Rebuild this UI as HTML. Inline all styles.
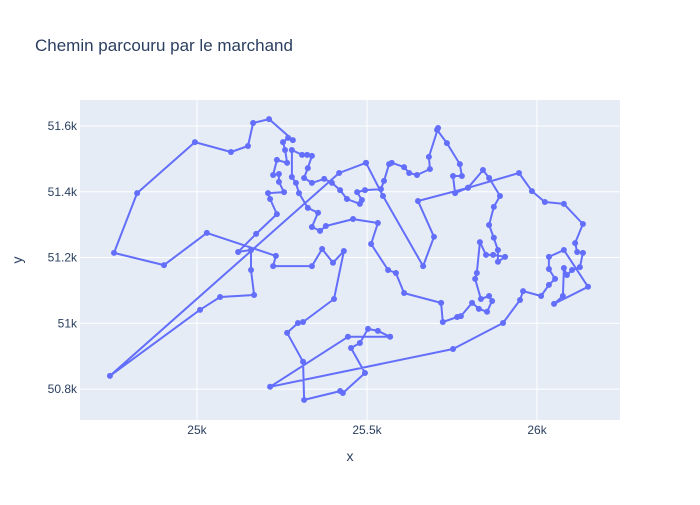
<!DOCTYPE html>
<html><head><meta charset="utf-8"><style>
body{margin:0;background:#fff;font-family:"Liberation Sans",sans-serif;}
svg text{font-family:"Liberation Sans",sans-serif;fill:#2a3f5f;}
</style></head><body>
<svg id="chart" width="700" height="500">
<rect width="700" height="500" fill="#fff"/>
<text x="35" y="51" font-size="17">Chemin parcouru par le marchand</text>
<rect x="80" y="100" width="540" height="320" fill="#e5ecf6"/>
<g id="grid"></g><g id="series"></g><g id="ticks"></g>
<text x="350" y="461" font-size="14" text-anchor="middle">x</text>
<text x="22" y="260" font-size="14" text-anchor="middle" transform="rotate(-90 22 260)">y</text>
</svg>
<script>
const xs=[25497,25418,24744,25009,25068,25168,25159,25159,25121,25174,25235,25215,25209,25256,25241,25241,25224,25235,25265,25259,25253,25268,25282,25212,25165,25150,25100,24994,24824,24756,24903,25029,25232,25224,25338,25368,25400,25432,25403,25312,25297,25265,25312,25315,25421,25429,25494,25453,25479,25503,25532,25568,25444,25215,25753,25900,25950,25959,26012,26035,26053,26035,26035,26079,26150,26050,26076,26079,26088,26103,26126,26135,26118,26112,26135,26079,26023,25985,25947,25797,25759,25753,25779,25773,25735,25706,25709,25682,25685,25647,25624,25609,25573,25565,25550,25541,25494,25471,25485,25479,25441,25421,25397,25374,25338,25315,25326,25338,25324,25309,25279,25279,25291,25300,25326,25356,25338,25362,25379,25459,25532,25512,25562,25585,25609,25718,25723,25765,25776,25809,25829,25853,25868,25859,25835,25818,25823,25832,25850,25871,25906,25885,25885,25873,25859,25873,25891,25859,25841,25797,25650,25697,25665,25547,25497];
const ys=[51488,51457,50840,51041,51080,51086,51162,51223,51217,51272,51332,51378,51396,51399,51430,51454,51451,51497,51488,51527,51551,51564,51557,51621,51609,51539,51521,51551,51396,51214,51177,51275,51205,51174,51174,51226,51184,51220,51074,51004,51001,50971,50883,50767,50794,50788,50849,50925,50940,50983,50977,50959,50959,50807,50922,51001,51071,51098,51083,51117,51135,51165,51202,51223,51111,51059,51083,51168,51147,51162,51171,51214,51217,51244,51302,51363,51369,51402,51457,51412,51396,51448,51448,51484,51548,51588,51594,51506,51469,51451,51457,51475,51488,51484,51433,51408,51405,51399,51375,51363,51378,51405,51427,51439,51427,51442,51472,51509,51512,51512,51527,51445,51427,51396,51351,51336,51293,51281,51296,51317,51305,51241,51162,51153,51092,51062,51004,51019,51022,51062,51044,51035,51068,51083,51074,51135,51153,51247,51208,51208,51202,51187,51223,51260,51299,51354,51387,51442,51466,51412,51372,51263,51174,51387,51488];
const xTicks=[25000,25500,26000];
const xTickLabels=["25k","25.5k","26k"];
const yTicks=[50800,51000,51200,51400,51600];
const yTickLabels=["50.8k","51k","51.2k","51.4k","51.6k"];
const NS="http://www.w3.org/2000/svg";
const X0=24656,X1=26244,Y0=50706,Y1=51679;
function sx(v){return 80+(v-X0)/(X1-X0)*540;}
function sy(v){return 420-(v-Y0)/(Y1-Y0)*320;}
function mk(t,a,p){const e=document.createElementNS(NS,t);for(const k in a)e.setAttribute(k,a[k]);p.appendChild(e);return e;}
const grid=document.getElementById('grid'),ticks=document.getElementById('ticks'),series=document.getElementById('series');
xTicks.forEach((v,i)=>{
 const l=mk('line',{x1:sx(v),x2:sx(v),y1:100,y2:420,stroke:'#fff','stroke-width':1},grid);
 
 
 const t=mk('text',{x:sx(v),y:434,'font-size':12,'text-anchor':'middle'},ticks);
 t.textContent=xTickLabels[i];
 
 
});
yTicks.forEach((v,i)=>{
 const l=mk('line',{x1:80,x2:620,y1:sy(v),y2:sy(v),stroke:'#fff','stroke-width':1},grid);
 
 
 const t=mk('text',{x:77,y:sy(v)+4,'font-size':12,'text-anchor':'end'},ticks);
 t.textContent=yTickLabels[i];
 
 
});
const pts=xs.map((v,i)=>sx(v).toFixed(1)+','+sy(ys[i]).toFixed(1)).join(' ');
const pl=mk('polyline',{points:pts,fill:'none',stroke:'#636efa','stroke-width':2,'stroke-linejoin':'round'},series);


xs.forEach((v,i)=>{
 const c=mk('circle',{cx:sx(v),cy:sy(ys[i]),r:3,fill:'#636efa'},series);
 
 
});
</script>
</body></html>
